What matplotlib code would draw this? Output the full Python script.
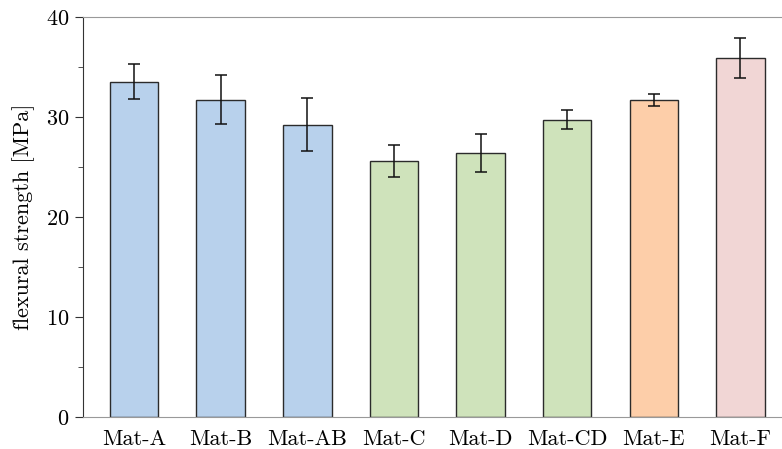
import numpy as np
import matplotlib
matplotlib.use('Agg')
import matplotlib.pyplot as plt

materials = ['Mat-A', 'Mat-B', 'Mat-AB', 'Mat-C', 'Mat-D', 'Mat-CD', 'Mat-E', 'Mat-F']
strength = [33.5, 31.7, 29.2, 25.6, 26.4, 29.7, 31.7, 35.9]
err = [1.75, 2.45, 2.65, 1.6, 1.9, 0.95, 0.6, 2.0]
colors = ['#b8d1ec', '#b8d1ec', '#b8d1ec', '#cfe3bb', '#cfe3bb', '#cfe3bb', '#fdcea9', '#f1d6d5']

plt.rcParams['font.family'] = 'cmr10'
plt.rcParams['axes.formatter.use_mathtext'] = True
plt.rcParams['font.size'] = 16

fig = plt.figure(figsize=(7.82, 4.49), dpi=100)
ax = fig.add_axes([0.106, 0.0713, 0.894, 0.891])

x = np.arange(len(materials))
ax.bar(x, strength, width=0.56, color=colors, edgecolor='#2b2b2b', linewidth=1.0,
       yerr=err, capsize=4, error_kw=dict(ecolor='#111111', elinewidth=1.1, capthick=1.1))

ax.set_xlim(-0.59, 7.48)
ax.set_ylim(0, 40)
ax.set_yticks([0, 10, 20, 30, 40])
ax.set_yticks([5, 15, 25, 35], minor=True)
ax.set_xticks(x)
ax.set_xticklabels(materials)
ax.tick_params(axis='x', length=0, pad=9)
ax.tick_params(axis='y', which='major', length=6, color='#333333', pad=4)
ax.tick_params(axis='y', which='minor', length=3.5, color='#333333')
ax.set_ylabel('flexural strength [MPa]', labelpad=8)

ax.spines['right'].set_visible(False)
ax.spines['left'].set_color('#333333')
ax.spines['top'].set_color('#999999')
ax.spines['bottom'].set_color('#999999')

plt.savefig('out.png', dpi=100)
